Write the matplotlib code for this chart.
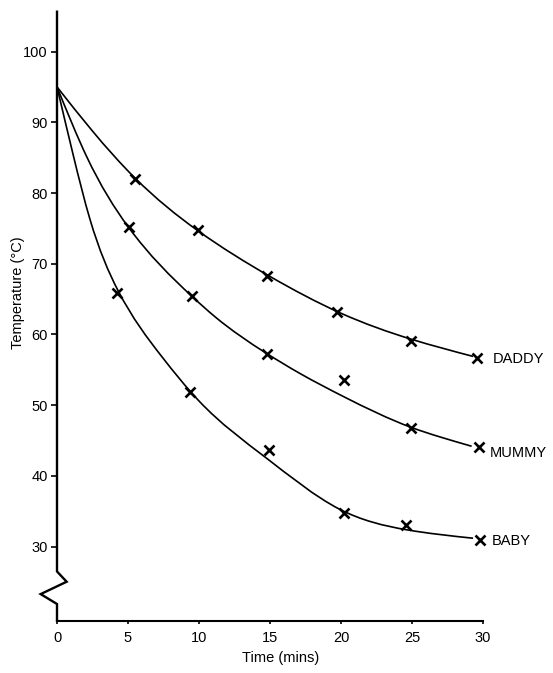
import numpy as np
import matplotlib
matplotlib.use("Agg")
import matplotlib.pyplot as plt
from matplotlib.path import Path
from matplotlib.patches import PathPatch

# ---------------- data ----------------
series_names = ["DADDY", "MUMMY", "BABY"]

# measured points (time in mins, temperature in deg C)
daddy_t = [5.5, 9.9, 14.8, 19.7, 24.9, 29.6]
daddy_T = [82.0, 74.8, 68.2, 63.2, 59.1, 56.7]
mummy_t = [5.1, 9.5, 14.8, 20.2, 24.9, 29.7]
mummy_T = [75.2, 65.4, 57.3, 53.6, 46.8, 44.1]
baby_t = [4.2, 9.4, 14.9, 20.2, 24.6, 29.8]
baby_T = [65.9, 51.9, 43.7, 34.8, 33.1, 31.0]

# hand-drawn smooth curves
daddy_curve_t = [0, 2.44, 5.5, 9.9, 15, 20, 25, 29.3]
daddy_curve_T = [95.0, 88.9, 82.1, 74.7, 68.2, 63.0, 59.3, 56.9]
mummy_curve_t = [0, 2.1, 5.02, 9.5, 11.13, 14.7, 17.1, 20.2, 24.9, 27, 29.2]
mummy_curve_T = [95.0, 85.1, 75.2, 65.4, 62.5, 57.4, 54.5, 51.2, 46.9, 45.5, 44.2]
baby_curve_t = [0, 1.15, 2.32, 4.3, 7.37, 10, 14.7, 19.9, 24.6, 29.3]
baby_curve_T = [95.0, 85.3, 76.3, 66.2, 56.9, 50.6, 42.6, 35.3, 32.4, 31.2]

x_ticks = [0, 5, 10, 15, 20, 25, 30]
y_ticks = [30, 40, 50, 60, 70, 80, 90, 100]

# ---------------- styling / layout ----------------
plt.rcParams['font.family'] = ['Liberation Sans', 'DejaVu Sans']
FS = 10.5
W, H = 553, 673
fig = plt.figure(figsize=(W / 100, H / 100), dpi=100)
ax = fig.add_axes([57 / W, 1 - 620.7 / H, (483 - 57) / W, (620.7 - 11.7) / H])
ax.set_xlim(0, 30)
ax.set_ylim(19.54, 105.63)


def spline_path(x, y):
    """Natural cubic spline through the read points, drawn as Bezier path."""
    x = np.asarray(x, float)
    y = np.asarray(y, float)
    n = len(x)
    h = np.diff(x)
    d = np.diff(y) / h
    A = np.zeros((n, n))
    b = np.zeros(n)
    A[0, 0] = A[-1, -1] = 1.0
    for i in range(1, n - 1):
        A[i, i - 1] = h[i - 1]
        A[i, i] = 2 * (h[i - 1] + h[i])
        A[i, i + 1] = h[i]
        b[i] = 6 * (d[i] - d[i - 1])
    M = np.linalg.solve(A, b)
    verts = [(x[0], y[0])]
    codes = [Path.MOVETO]
    for i in range(n - 1):
        hh = h[i]
        m0 = d[i] - hh * (2 * M[i] + M[i + 1]) / 6
        m1 = d[i] + hh * (M[i] + 2 * M[i + 1]) / 6
        verts += [(x[i] + hh / 3, y[i] + m0 * hh / 3),
                  (x[i + 1] - hh / 3, y[i + 1] - m1 * hh / 3),
                  (x[i + 1], y[i + 1])]
        codes += [Path.CURVE4] * 3
    return Path(verts, codes)


curves = [(daddy_curve_t, daddy_curve_T), (mummy_curve_t, mummy_curve_T),
          (baby_curve_t, baby_curve_T)]
points = [(daddy_t, daddy_T), (mummy_t, mummy_T), (baby_t, baby_T)]

for (ct, cT) in curves:
    ax.add_patch(PathPatch(spline_path(ct, cT), fill=False, lw=1.2,
                           ec='black', clip_on=False))
for (pt, pT) in points:
    ax.plot(pt, pT, linestyle='none', marker='x', ms=7, mew=1.9,
            color='black', clip_on=False)

# series labels at the right end of each curve
label_offsets = [(30.7, 56.5), (30.5, 43.3), (30.6, 30.85)]
for name, (lx, ly) in zip(series_names, label_offsets):
    ax.text(lx, ly, name, ha='left', va='center', fontsize=FS, clip_on=False)

# axes: bottom spine + manual left axis with break zigzag
for s in ['top', 'right', 'left']:
    ax.spines[s].set_visible(False)
ax.spines['bottom'].set_linewidth(1.5)

y_top, y_bot = ax.get_ylim()[1], ax.get_ylim()[0]
axis_x = [0, 0, 0.68, -1.15, 0, 0]
axis_y = [y_top, 26.5, 25.05, 23.3, 21.9, y_bot]
ax.plot(axis_x, axis_y, color='black', lw=1.7, clip_on=False,
        solid_joinstyle='miter')

ax.set_xticks(x_ticks)
ax.set_yticks(y_ticks)
ax.set_xticklabels([str(v) for v in x_ticks])
ax.set_yticklabels([str(v) for v in y_ticks])
ax.tick_params(axis='y', direction='out', length=4.5, width=1.2, pad=2,
               labelsize=FS)
ax.tick_params(axis='x', direction='out', length=2.5, width=1.2, pad=5,
               labelsize=FS)

fig.text(281 / W, 1 - 658 / H, 'Time (mins)', ha='center', va='center',
         fontsize=FS)
fig.text(18 / W, 1 - 293 / H, 'Temperature (°C)', ha='center', va='center',
         rotation=90, fontsize=FS)

fig.savefig('out.png', dpi=100)
